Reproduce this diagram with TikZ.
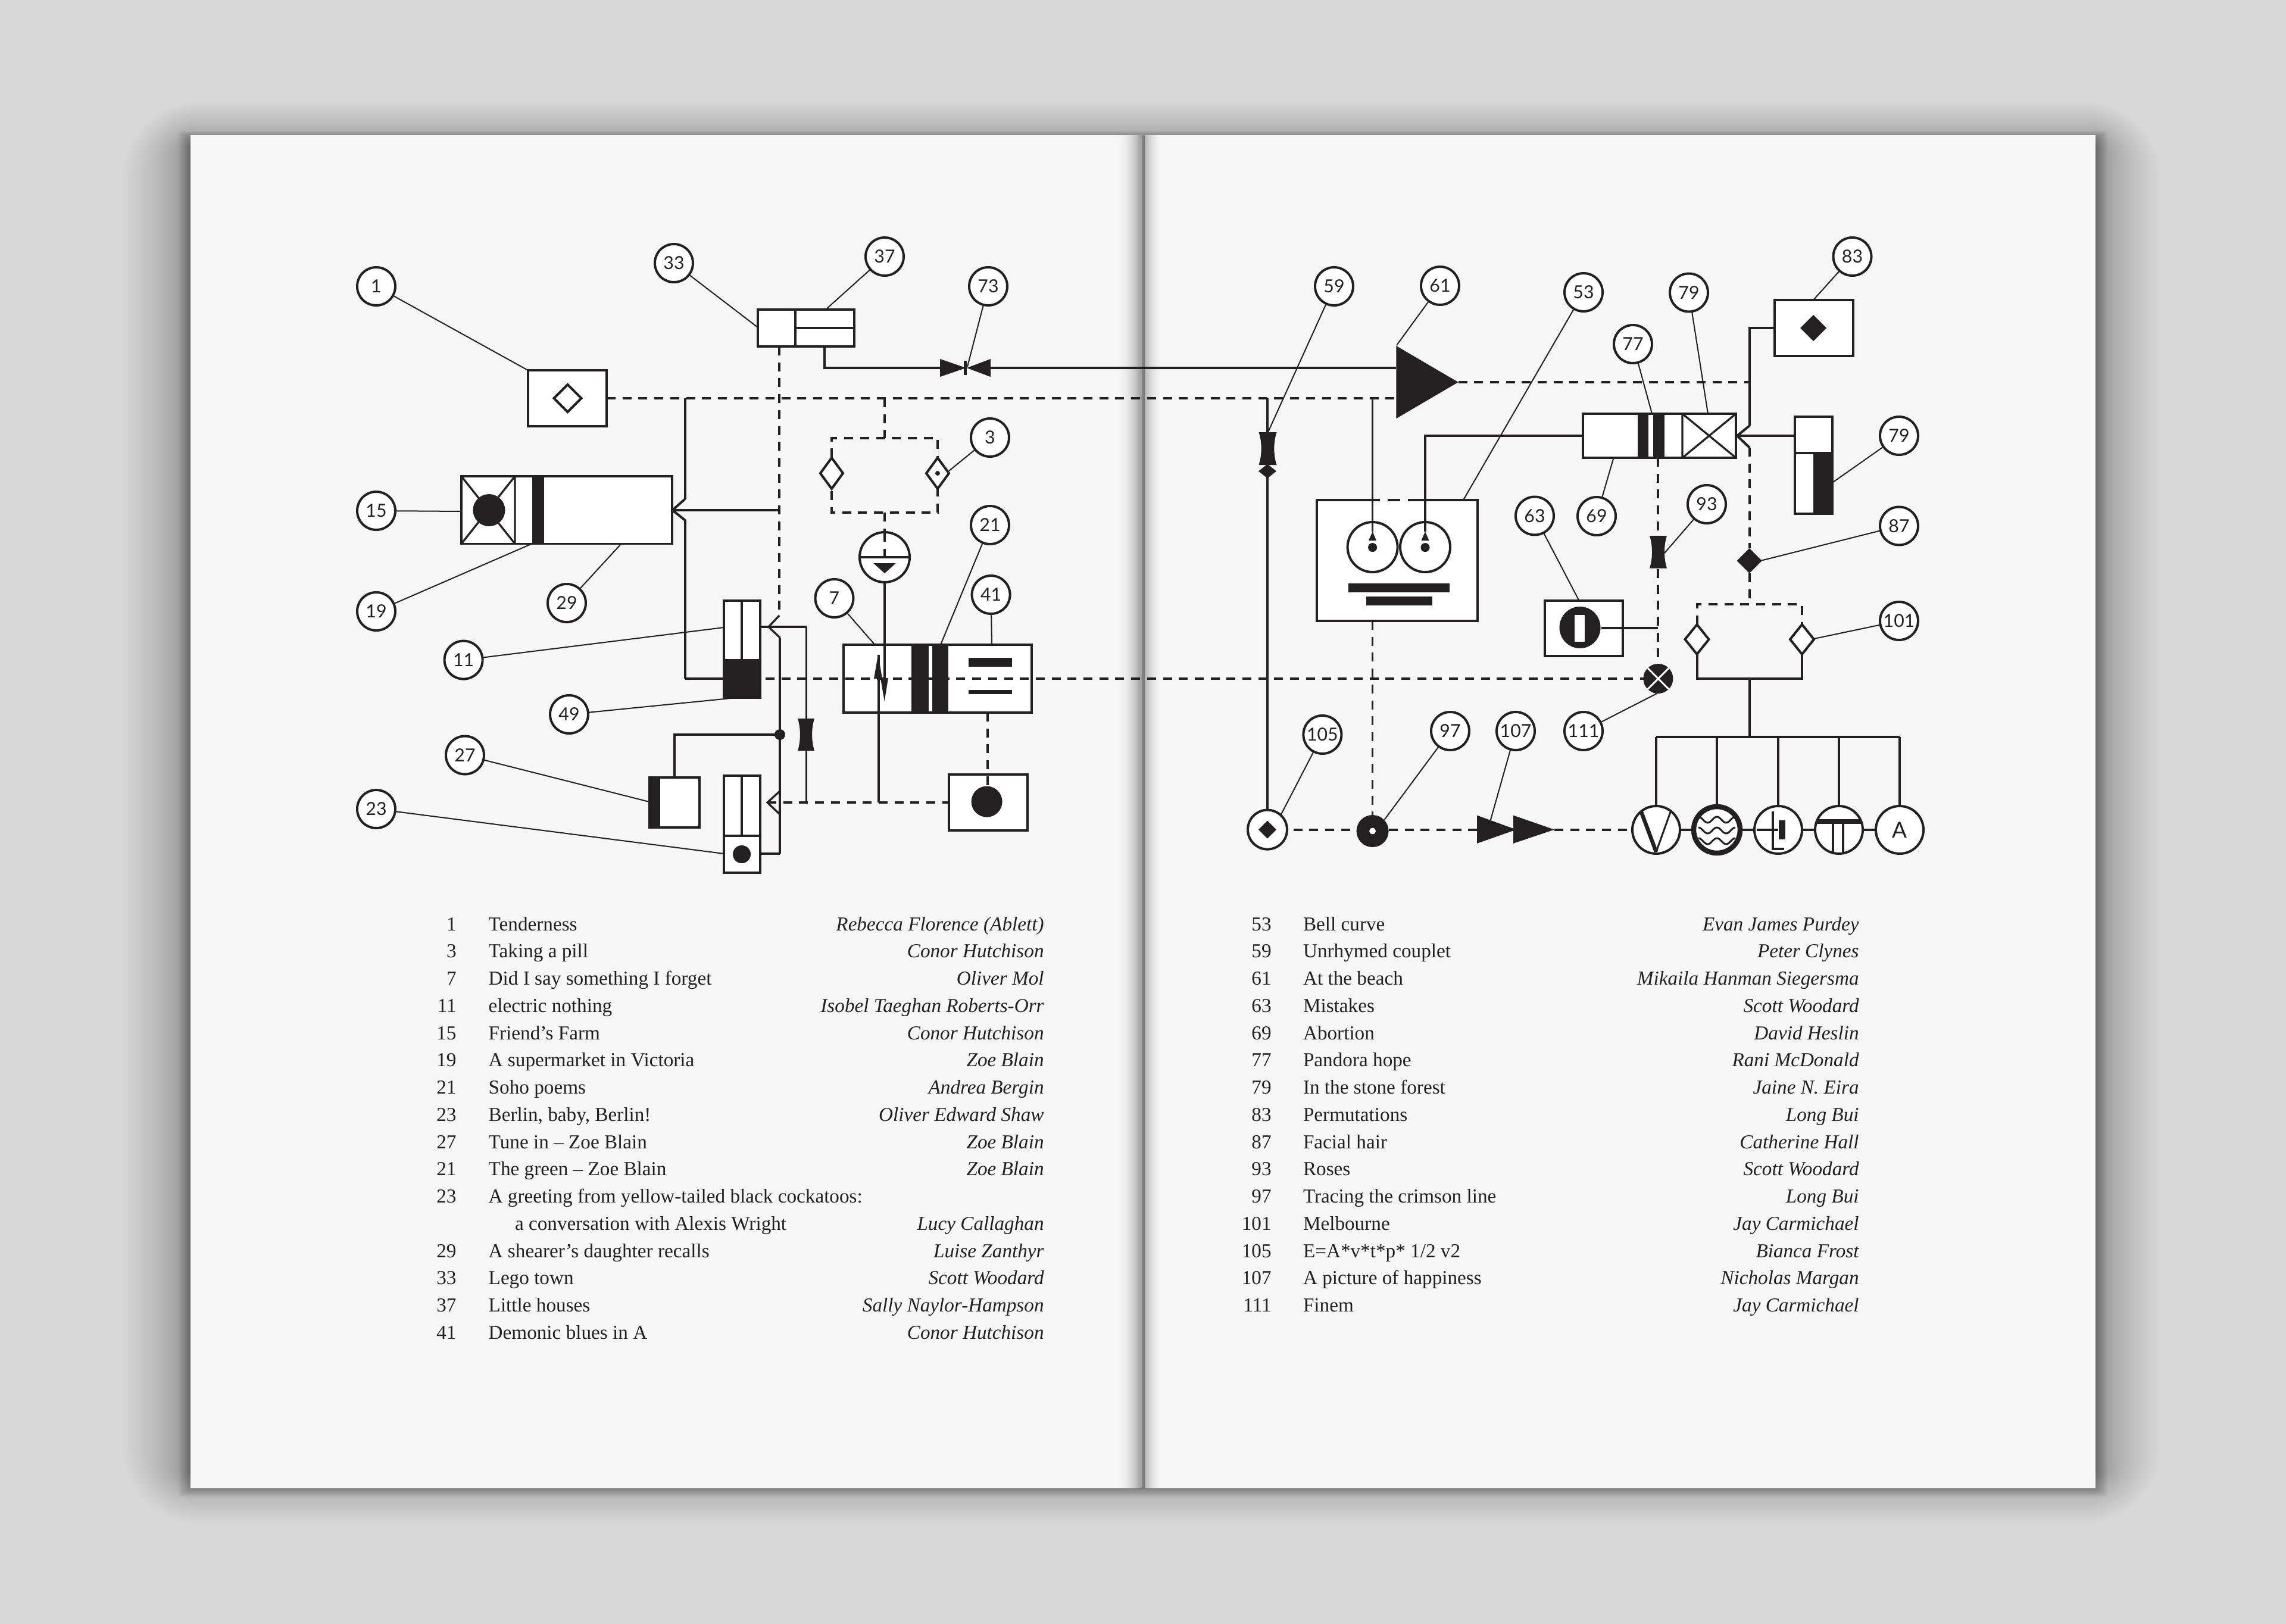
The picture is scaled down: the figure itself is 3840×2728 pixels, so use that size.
\documentclass[tikz,border=0pt]{standalone}
\usepackage{fontspec}
\usetikzlibrary{fit}
\setmainfont{Liberation Serif}
\newfontfamily\labfont{Lato}
\definecolor{ink}{RGB}{35,32,33}
\definecolor{bgc}{RGB}{216,216,216}
\definecolor{pagec}{RGB}{246,246,246}
\tikzset{
  hv/.style={line width=.4mm,draw=ink},
  lt/.style={line width=.33mm,draw=ink},
  leader/.style={line width=.2mm,draw=ink},
  dsh/.style={line width=.4mm,draw=ink,dash pattern=on 1.5mm off 1.17mm},
  dshv/.style={line width=.33mm,draw=ink,dash pattern=on 1.5mm off 1.17mm},
  lab/.style={circle,draw=ink,line width=.4mm,fill=white,minimum size=6.4mm,inner sep=0,outer sep=0,font=\labfont\fontsize{8.6}{10}\selectfont,text=ink},
  bxs/.style={draw=ink,fill=white,line width=.4mm,inner sep=0,outer sep=0},
  solid/.style={fill=ink,draw=none},
  rnd/.style={circle,draw=ink,fill=white,line width=.4mm,inner sep=0,outer sep=0},
  txt/.style={font=\fontsize{9.45}{13}\selectfont,text=ink,inner sep=0,outer sep=0},
  tita/.style={txt,anchor=base west},
  numa/.style={txt,anchor=base east},
  auta/.style={txt,anchor=base east,font=\fontsize{9.45}{13}\selectfont\itshape}
}
\newcommand\bxn[6][]{\node[bxs,#1,fit={(#3,#4)(#5,#6)}] (#2) {};}
\newcommand\rowL[4]{%
  \node[numa] (ln#1) at (766.6,{1563+45.75*#1}) {#2};
  \node[tita] (lt#1) at (820.7,{1563+45.75*#1}) {#3};
  \node[auta] (la#1) at (1753.6,{1563+45.75*#1}) {#4};}
\newcommand\rowR[4]{%
  \node[numa] (rn#1) at (2135.6,{1563+45.75*#1}) {#2};
  \node[tita] (rt#1) at (2189,{1563+45.75*#1}) {#3};
  \node[auta] (ra#1) at (3122.6,{1563+45.75*#1}) {#4};}
% diamond: name x y hw hh style
\newcommand\dmd[6]{\coordinate (#1) at (#2,#3);
  \path[#6] ({#2-#4},#3)--(#2,{#3-#5})--({#2+#4},#3)--(#2,{#3+#5})--cycle;}
% throttle: name cx y1 y2 hw
\newcommand\thr[5]{\coordinate (#1) at (#2,{(#3+#4)/2});
  \fill[ink] ({#2-#5},#3)--({#2+#5},#3)
   .. controls ({#2+.63*#5},{#3+.3*(#4-#3)}) and ({#2+.63*#5},{#4-.3*(#4-#3)}) .. ({#2+#5},#4)
   --({#2-#5},#4)
   .. controls ({#2-.63*#5},{#4-.3*(#4-#3)}) and ({#2-.63*#5},{#3+.3*(#4-#3)}) .. cycle;}
\begin{document}
\begin{tikzpicture}[x=0.1mm,y=-0.1mm]
\useasboundingbox (0,0) rectangle (3840,2728);
\fill[bgc] (0,0) rectangle (3840,2728);
% shadow
\foreach \k in {1,...,40}{
  \pgfmathsetmacro\ee{(\k/40)^1.6}
  \pgfmathsetmacro\rr{\ee*13+.2}
  \fill[black,opacity=.0075,rounded corners=\rr mm] ({320-115*\ee},{245-75*\ee}) rectangle ({3520+110*\ee},{2475+85*\ee});
}
\foreach \k in {1,...,8}{
  \fill[black,opacity=.03,rounded corners=.4mm] ({320-2.5*\k},{232-1.5*\k}) rectangle ({3520+2.5*\k},{2500+1.8*\k});
}
\fill[pagec] (320,227) rectangle (3520,2500);
% gutter shading built from overlapping strips
\foreach \k in {0,...,25}{
  \pgfmathsetmacro\vv{40*(\k/25)^2.6}
  \fill[black!\vv!pagec] ({1868+2*\k},227) rectangle (1918,2500);
}
\foreach \k in {0,...,16}{
  \pgfmathsetmacro\vv{26*(1-\k/16)^2.2}
  \fill[black!\vv!pagec] ({1923+2*\k},227) rectangle (1957,2500);
}
\fill[black!50] (1918,227) rectangle (1923,2500);

% boxes
\bxn{b1}{887}{622}{1019}{716}
\bxn{b33}{1273}{520}{1335.5}{582}
\bxn{b37}{1335.5}{520}{1435}{551}
\bxn{b37l}{1335.5}{551}{1435}{582}
\bxn[line width=.32mm]{b15}{775}{800}{1129}{913.5}
\bxn{b11}{1216}{1009}{1277}{1172}
\bxn{b27}{1091}{1306}{1175}{1390}
\bxn{b23}{1216}{1303}{1277}{1404}
\bxn{b23d}{1216}{1404}{1277}{1466}
\bxn{b7}{1417}{1083}{1733}{1197}
\bxn{bdot}{1594}{1301}{1726}{1395}
\bxn{b53}{2211.5}{840}{2482}{1043}
\bxn{b77}{2659}{695}{2916}{769}
\bxn{b83}{2980.5}{504}{3112.5}{598}
\bxn{b79}{3014.6}{700}{3078}{863}
\bxn{b63}{2595}{1008.5}{2726}{1102}
% gaps in top of bell-curve box
\draw[pagec,line width=.6mm] (2318,840)--(2331,840) (2352,840)--(2365,840);

% named junctions
\coordinate (j1) at (1151,669);
\coordinate (tri) at (2345,669);
\coordinate (a15) at (1129.5,857);
\coordinate (a15u) at (1151,838);
\coordinate (a15d) at (1151,874);
\coordinate (d33) at (1309,582);
\coordinate (a11) at (1291,1053);
\coordinate (a11u) at (1309,1034);
\coordinate (a11d) at (1310,1071);
\coordinate (a27) at (1289,1348);
\coordinate (a27u) at (1310,1329);
\coordinate (a27d) at (1310,1368);
\coordinate (j54) at (1354.5,1053);
\coordinate (j55) at (1354.5,1348);
\coordinate (jd) at (1310,1234);
\coordinate (j33) at (1384.6,582);
\coordinate (j73) at (1384.6,618);
\coordinate (tip) at (2449.5,642);
\coordinate (dtop) at (1486,669);
\coordinate (a77) at (2918,732);
\coordinate (a77u) at (2939,715);
\coordinate (a77d) at (2939,752);

% left-page connectors
\draw[dsh] (b1.east) -- (tri);
\draw[lt] (j1) -- (a15u);
\draw[hv] (a15u) -- (a15) -- (a15d);
\draw[lt] (a15d) -- (1151,1140);
\draw[hv] (1151,1140) -- (1216,1140);
\draw[hv] (a15) -- (1309,857);
\draw[dshv] (d33) -- (a11u);
\draw[lt] (a11u) -- (a11) -- (a11d);
\draw[lt] (a11d) -- (1310,1434);
\draw[hv] (1310,1434) -- (1277,1434);
\draw[hv] (1277,1053) -- (j54);
\draw[lt] (j54) -- (j55);
\draw[lt] (a27u) -- (a27) -- (a27d);
\draw[dsh] (a27) -- (bdot.west);
\draw[hv] (jd) -- (1133,1234) -- (1133,1306);
\draw[hv] (j33) -- (j73) -- (1579,618);
\draw[hv] (1664,618) -- (2345,618);
\draw[dsh] (1286,1140) -- (2762,1140);
\draw[dshv] (1659,1197) -- (1659,1346);
\draw[dshv] (dtop) -- (1486,736);
\draw[dsh] (1397,795) -- (1397,736) -- (1575,736) -- (1575,861) -- (1397,861) -- cycle;
\draw[dshv] (1486,861) -- (1486,936);
\draw[lt] (1486,978) -- (1486,1140);
\draw[lt] (1476,1100) -- (1476,1348);
\node[rnd,minimum size=8.4mm] (eq) at (1486,936) {};
\draw[lt,line width=.35mm] (1444,936) -- (1528,936);
\draw[dshv] (1486,895) -- (1486,936);
\fill[ink] (1467,946) -- (1505,946) -- (1486,963) -- cycle;

% right-page connectors
\draw[dsh] (tip) -- (2938,642);
\draw[lt] (2129,669) -- (2129,726);
\draw[lt] (2129,790) -- (2129,1360);
\draw[lt] (2305.6,669) -- (2305.6,893);
\draw[hv] (2394,893) -- (2394,732) -- (b77.west);
\draw[dshv] (2305.6,1043) -- (2305.6,1380);
\draw[hv] (a77u) -- (a77) -- (a77d);
\draw[hv] (a77u) -- (2939,551) -- (b83.west);
\coordinate (w79) at (3014.6,732);
\draw[hv] (a77) -- (w79);
\draw[dshv] (a77d) -- (2939,921);
\draw[dshv] (2785,769) -- (2785,1120);
\draw[hv] (2690,1055) -- (2785,1055);
\draw[dshv] (2939,963) -- (2939,1015);
\draw[dsh] (2850.5,1049) -- (2850.5,1015) -- (3027,1015) -- (3027,1049);
\draw[hv] (2850.5,1095) -- (2850.5,1140) -- (3027,1140) -- (3027,1095);
\draw[lt] (2939,1140) -- (2939,1238);
\draw[hv] (2782,1238) -- (3191,1238);
\draw[lt] (2782,1238) -- (2782,1355);
\draw[lt] (2884,1238) -- (2884,1355);
\draw[lt] (2987,1238) -- (2987,1355);
\draw[lt] (3089,1238) -- (3089,1355);
\draw[lt] (3191,1238) -- (3191,1355);
\draw[dsh] (2146,1393.6) -- (2481,1393.6);
\draw[dsh] (2611,1393.6) -- (2742,1393.6);
\draw[hv] (2822,1393.6) -- (3151,1393.6);

% box 15 detail
\draw[lt] (775,800) -- (865,913.5) (865,800) -- (775,913.5) (865,800) -- (865,913.5);
\fill[ink] (893.5,800) rectangle (914,913.5);
\fill[ink] (821.5,857) circle (27);
% box 11
\draw[lt] (1246,1009) -- (1246,1107);
\fill[ink] (1214,1107) rectangle (1279,1174);
% box 27
\fill[ink] (1089,1304) rectangle (1109,1392);
% box 23
\draw[lt] (1246,1303) -- (1246,1404);
\fill[ink] (1246,1435) circle (15);
% box 7
\fill[ink] (1530.7,1081) rectangle (1560,1199);
\fill[ink] (1565.7,1081) rectangle (1593.3,1199);
\fill[ink] (1627,1105) rectangle (1700,1120);
\fill[ink] (1627,1159) rectangle (1700,1166);
\fill[ink] (1475,1099.3) -- (1482,1140) -- (1468,1140) -- cycle;
\fill[ink] (1485.7,1178) -- (1479,1139) -- (1492,1139) -- cycle;
% box dot
\fill[ink] (1657.6,1346.6) circle (26);
% junction, throttles
\fill[ink] (jd) circle (9);
\thr{th1}{1354}{1207}{1261}{14}
\thr{th2}{2129.5}{726}{781}{15}
\thr{th3}{2785.5}{900}{954.5}{14.5}
% bowtie
\fill[ink] (1579,603) -- (1622.7,618) -- (1579,633) -- cycle;
\fill[ink] (1664,603) -- (1624,618) -- (1664,633) -- cycle;
\fill[ink] (1618.5,606) rectangle (1623.5,630);
\coordinate (bow) at (1625,616);
% triangle 61
\fill[ink] (2345.4,581) -- (tip) -- (2345.4,703) -- cycle;
% diamonds
\dmd{dA}{953.5}{669}{23}{23}{draw=ink,line width=.4mm}
\dmd{dB}{1397}{795}{19}{26}{draw=ink,fill=white,line width=.4mm}
\dmd{dC}{1575}{795}{19}{26}{draw=ink,fill=white,line width=.4mm}
\fill[ink] (dC) circle (4);
\dmd{dD}{2129}{791.5}{15}{12}{fill=ink}
\dmd{dE}{3046}{551}{22}{22}{fill=ink}
\dmd{dF}{2938.5}{942}{21}{21}{fill=ink}
\dmd{dG}{2850.5}{1074}{20}{25}{draw=ink,fill=white,line width=.4mm}
\dmd{dH}{3027}{1074}{20}{25}{draw=ink,fill=white,line width=.4mm}
% face box
\node[rnd,minimum size=8.4mm] (e1) at (2305.6,919) {};
\node[rnd,minimum size=8.4mm] (e2) at (2394,919) {};
\draw[lt] (2305.6,878) -- (2305.6,893);
\draw[lt] (2394,878) -- (2394,893);
\fill[ink] (2305.6,893) -- (2312,908) -- (2299,908) -- cycle;
\fill[ink] (2394,893) -- (2400.5,908) -- (2387.5,908) -- cycle;
\fill[ink] (2305.6,919.6) circle (7.5);
\fill[ink] (2394,919.6) circle (7.5);
\fill[ink] (2265,979.5) rectangle (2435,994.6);
\fill[ink] (2295,1002) rectangle (2406,1017);
% box 77
\fill[ink] (2750.5,693) rectangle (2769,771);
\fill[ink] (2776.5,693) rectangle (2796,771);
\draw[lt] (2826,695) -- (2826,769) (2826,695) -- (2916,769) (2826,769) -- (2916,695);
% box 79
\draw[hv] (3014.6,761) -- (3078,761);
\fill[ink] (3045.6,759) rectangle (3080,865);
% box 63
\fill[ink] (2654,1054) ellipse (34.5 and 35);
\fill[white] (2644.6,1033) rectangle (2661.5,1077.7);
% X circle
\fill[ink] (2785.4,1140) circle (25);
\draw[white,line width=.3mm] (2767.7,1122.3) -- (2803.1,1157.7) (2767.7,1157.7) -- (2803.1,1122.3);
\coordinate (x111) at (2783,1165);
% bottom row
\node[rnd,minimum size=6.6mm] (c105) at (2129,1393.6) {};
\dmd{dI}{2129}{1393.6}{15}{15}{fill=ink}
\fill[ink] (2305.6,1396) circle (27);
\fill[white] (2305.6,1396) circle (5.5);
\fill[ink] (2481,1369.6) -- (2547,1393.6) -- (2481,1416.8) -- cycle;
\fill[ink] (2542,1369.6) -- (2611,1393.6) -- (2542,1416.8) -- cycle;
% VOLTA
\node[rnd,minimum size=8mm] (cV) at (2782,1394) {};
\draw[ink,line width=.65mm] (2757,1364) -- (2782,1431);
\draw[ink,line width=.3mm] (2782,1431) -- (2806,1364);
\node[rnd,minimum size=7.8mm,line width=.85mm] (cO) at (2884,1394) {};
\foreach \yy in {1377,1395,1413}{
  \draw[ink,line width=.3mm] plot[domain=-31:31,samples=50,smooth] ({2884+\x},{\yy-5*cos(\x*360/31)});
}
\node[rnd,minimum size=8mm] (cL) at (2987,1394) {};
\draw[hv] (2951,1393.6) -- (2987,1393.6);
\draw[lt] (2978,1363) -- (2978,1426) -- (2997,1426);
\fill[ink] (2987.5,1378) rectangle (2999,1410);
\node[rnd,minimum size=8mm] (cT) at (3089,1394) {};
\fill[ink] (3052,1376) rectangle (3126,1384);
\draw[lt] (3079,1380) -- (3079,1433) (3096,1380) -- (3096,1433);
\node[rnd,minimum size=8mm,font=\labfont\fontsize{10.5}{12}\selectfont,text=ink] (cA) at (3191,1394) {A};

% label circles
\node[lab] (n1) at (632,481) {1};
\node[lab] (n33) at (1132,442) {33};
\node[lab] (n37) at (1486,431) {37};
\node[lab] (n73) at (1660,481) {73};
\node[lab] (n3) at (1663,735) {3};
\node[lab] (n15) at (632,858) {15};
\node[lab] (n19) at (632,1027) {19};
\node[lab] (n29) at (952,1013) {29};
\node[lab] (n21) at (1663,882) {21};
\node[lab] (n7) at (1401.5,1005) {7};
\node[lab] (n41) at (1664.6,999) {41};
\node[lab] (n11) at (778.6,1108.6) {11};
\node[lab] (n49) at (956,1200) {49};
\node[lab] (n27) at (781,1268.5) {27};
\node[lab] (n23) at (632,1359) {23};
\node[lab] (n59) at (2241,481) {59};
\node[lab] (n61) at (2419,480) {61};
\node[lab] (n53) at (2660,491) {53};
\node[lab] (n79a) at (2837,491.5) {79};
\node[lab] (n77) at (2743,578) {77};
\node[lab] (n83) at (3111.5,431) {83};
\node[lab] (n79b) at (3190,732) {79};
\node[lab] (n87) at (3190,883.5) {87};
\node[lab] (n93) at (2867,847) {93};
\node[lab] (n69) at (2682,867) {69};
\node[lab] (n63) at (2578,866.5) {63};
\node[lab] (n101) at (3190,1043) {101};
\node[lab] (n111) at (2660,1228) {111};
\node[lab] (n105) at (2221.4,1234) {105};
\node[lab] (n97) at (2436,1228) {97};
\node[lab] (n107) at (2546,1228) {107};

% leaders
\coordinate (t1) at (885,621);
\coordinate (t33) at (1273,550);
\coordinate (t37) at (1387,520);
\coordinate (t3) at (1594,791);
\coordinate (t15) at (775,859);
\coordinate (t19) at (892,914);
\coordinate (t29) at (1043,914);
\coordinate (t21) at (1580,1083);
\coordinate (t7) at (1469.5,1083);
\coordinate (t41) at (1666,1083);
\coordinate (t11) at (1216,1054);
\coordinate (t49) at (1237,1172);
\coordinate (t27) at (1091,1347);
\coordinate (t23) at (1216,1434);
\coordinate (t59) at (2130,726);
\coordinate (t61) at (2346,580);
\coordinate (t53) at (2458,840);
\coordinate (t79a) at (2869,695);
\coordinate (t77) at (2775,695);
\coordinate (t83) at (3046,504);
\coordinate (t79b) at (3079,810);
\coordinate (t87) at (2959,941.5);
\coordinate (t93) at (2796,929);
\coordinate (t69) at (2710.5,769);
\coordinate (t63) at (2652,1008);
\coordinate (t101) at (3047,1073);
\coordinate (t105) at (2152,1368);
\coordinate (t97) at (2325.5,1377);
\coordinate (t107) at (2504,1377);
\foreach \a/\b in {n1/t1,n33/t33,n37/t37,n73/bow,n3/t3,n15/t15,n19/t19,n29/t29,n21/t21,n7/t7,n41/t41,n11/t11,n49/t49,n27/t27,n23/t23,n59/t59,n61/t61,n53/t53,n79a/t79a,n77/t77,n83/t83,n79b/t79b,n87/t87,n93/t93,n69/t69,n63/t63,n101/t101,n111/x111,n105/t105,n97/t97,n107/t107}{
  \draw[leader] (\a) -- (\b);
}

% lists
\rowL{0}{1}{Tenderness}{Rebecca Florence (Ablett)}
\rowL{1}{3}{Taking a pill}{Conor Hutchison}
\rowL{2}{7}{Did I say something I forget}{Oliver Mol}
\rowL{3}{11}{electric nothing}{Isobel Taeghan Roberts-Orr}
\rowL{4}{15}{Friend’s Farm}{Conor Hutchison}
\rowL{5}{19}{A supermarket in Victoria}{Zoe Blain}
\rowL{6}{21}{Soho poems}{Andrea Bergin}
\rowL{7}{23}{Berlin, baby, Berlin!}{Oliver Edward Shaw}
\rowL{8}{27}{Tune in – Zoe Blain}{Zoe Blain}
\rowL{9}{21}{The green – Zoe Blain}{Zoe Blain}
\node[numa] (ln10) at (766.6,2020.5) {23};
\node[tita] (lt10) at (820.7,2020.5) {A greeting from yellow-tailed black cockatoos:};
\node[tita] (lt11) at (865,2066.25) {a conversation with Alexis Wright};
\node[auta] (la11) at (1753.6,2066.25) {Lucy Callaghan};
\rowL{12}{29}{A shearer’s daughter recalls}{Luise Zanthyr}
\rowL{13}{33}{Lego town}{Scott Woodard}
\rowL{14}{37}{Little houses}{Sally Naylor-Hampson}
\rowL{15}{41}{Demonic blues in A}{Conor Hutchison}

\rowR{0}{53}{Bell curve}{Evan James Purdey}
\rowR{1}{59}{Unrhymed couplet}{Peter Clynes}
\rowR{2}{61}{At the beach}{Mikaila Hanman Siegersma}
\rowR{3}{63}{Mistakes}{Scott Woodard}
\rowR{4}{69}{Abortion}{David Heslin}
\rowR{5}{77}{Pandora hope}{Rani McDonald}
\rowR{6}{79}{In the stone forest}{Jaine N. Eira}
\rowR{7}{83}{Permutations}{Long Bui}
\rowR{8}{87}{Facial hair}{Catherine Hall}
\rowR{9}{93}{Roses}{Scott Woodard}
\rowR{10}{97}{Tracing the crimson line}{Long Bui}
\rowR{11}{101}{Melbourne}{Jay Carmichael}
\rowR{12}{105}{E=A*v*t*p* 1/2 v2}{Bianca Frost}
\rowR{13}{107}{A picture of happiness}{Nicholas Margan}
\rowR{14}{111}{Finem}{Jay Carmichael}
\end{tikzpicture}
\end{document}
